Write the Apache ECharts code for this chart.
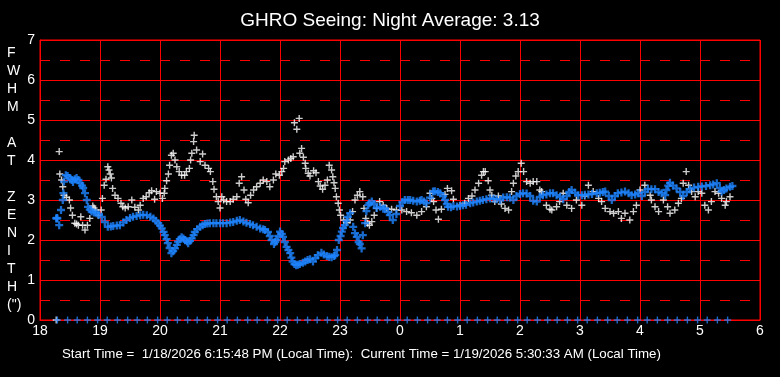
<!DOCTYPE html>
<html>
<head>
<meta charset="utf-8">
<script src="https://cdn.jsdelivr.net/npm/echarts@6/dist/echarts.min.js"></script>
<style>
  html, body { margin: 0; padding: 0; background: #000; }
  #chart { width: 780px; height: 377px; }
</style>
</head>
<body>
<div id="chart"></div>
<script>
// hour of night (18 = 6 PM, 24 = midnight, 30 = 6 AM)
const hourTicks = [18, 19, 20, 21, 22, 23, 24, 25, 26, 27, 28, 29, 30]

// raw FWHM samples (white)
const whiteTime = [18.27, 18.32, 18.33, 18.36, 18.38, 18.4, 18.44, 18.49, 18.51, 18.54, 18.58, 18.61, 18.64, 18.68, 18.71, 18.75, 18.79, 18.83, 18.88, 18.9, 18.92, 18.97, 19.02, 19.04, 19.07, 19.1, 19.13, 19.15, 19.17, 19.19, 19.21, 19.25, 19.3, 19.35, 19.38, 19.42, 19.47, 19.53, 19.58, 19.64, 19.67, 19.72, 19.77, 19.82, 19.86, 19.91, 19.94, 20.0, 20.04, 20.07, 20.08, 20.11, 20.14, 20.16, 20.19, 20.22, 20.25, 20.28, 20.32, 20.36, 20.41, 20.44, 20.49, 20.51, 20.53, 20.56, 20.57, 20.61, 20.67, 20.71, 20.75, 20.81, 20.84, 20.88, 20.9, 20.94, 20.97, 21.0, 21.03, 21.06, 21.11, 21.17, 21.22, 21.28, 21.32, 21.36, 21.4, 21.43, 21.47, 21.51, 21.56, 21.61, 21.67, 21.72, 21.78, 21.83, 21.89, 21.93, 21.99, 22.03, 22.06, 22.08, 22.14, 22.18, 22.22, 22.24, 22.28, 22.32, 22.33, 22.36, 22.39, 22.42, 22.43, 22.47, 22.5, 22.56, 22.6, 22.64, 22.67, 22.71, 22.75, 22.79, 22.82, 22.86, 22.88, 22.9, 22.92, 22.94, 22.97, 22.99, 23.01, 23.06, 23.11, 23.17, 23.21, 23.25, 23.29, 23.33, 23.38, 23.4, 23.43, 23.46, 23.49, 23.53, 23.57, 23.61, 23.66, 23.72, 23.78, 23.86, 23.94, 24.03, 24.11, 24.19, 24.28, 24.36, 24.44, 24.5, 24.53, 24.56, 24.6, 24.64, 24.69, 24.75, 24.79, 24.86, 24.89, 25.0, 25.08, 25.14, 25.2, 25.25, 25.31, 25.36, 25.39, 25.42, 25.47, 25.5, 25.53, 25.58, 25.64, 25.69, 25.75, 25.81, 25.86, 25.89, 25.93, 25.97, 26.02, 26.06, 26.11, 26.17, 26.22, 26.28, 26.33, 26.36, 26.44, 26.5, 26.53, 26.61, 26.66, 26.72, 26.78, 26.86, 26.94, 27.03, 27.08, 27.14, 27.22, 27.31, 27.36, 27.42, 27.5, 27.56, 27.64, 27.69, 27.75, 27.83, 27.89, 27.94, 28.0, 28.08, 28.17, 28.19, 28.25, 28.31, 28.39, 28.46, 28.5, 28.58, 28.64, 28.69, 28.72, 28.77, 28.81, 28.86, 28.92, 28.97, 29.03, 29.08, 29.14, 29.19, 29.25, 29.31, 29.36, 29.42, 29.44, 29.5]
const whiteFwhm = [0, 4.21, 3.65, 3.5, 3.33, 3.12, 3.07, 3.0, 2.8, 2.62, 2.42, 2.4, 2.37, 2.58, 2.37, 2.25, 2.37, 2.54, 2.85, 2.8, 2.75, 2.62, 2.75, 3.04, 3.37, 3.52, 3.83, 3.75, 3.65, 3.55, 3.29, 3.12, 3.04, 2.92, 2.83, 2.8, 2.83, 3.0, 2.82, 2.75, 2.87, 3.04, 3.08, 3.18, 3.23, 3.02, 3.21, 3.17, 3.04, 3.17, 3.29, 3.48, 3.65, 3.87, 4.12, 4.17, 4.0, 3.83, 3.71, 3.62, 3.62, 3.71, 3.79, 4.0, 4.17, 4.46, 4.62, 4.25, 3.96, 4.15, 3.87, 3.79, 3.71, 3.46, 3.27, 3.08, 2.96, 2.8, 3.08, 3.0, 2.96, 2.96, 3.02, 3.08, 3.42, 3.58, 3.25, 3.02, 2.93, 3.12, 3.25, 3.33, 3.42, 3.5, 3.46, 3.33, 3.5, 3.65, 3.62, 3.71, 3.79, 3.96, 4.0, 4.04, 4.08, 4.93, 4.77, 5.04, 4.17, 4.29, 4.07, 3.92, 3.79, 3.67, 3.6, 3.73, 3.68, 3.46, 3.35, 3.27, 3.37, 3.5, 3.87, 3.75, 3.58, 3.43, 3.29, 3.08, 2.92, 2.75, 2.62, 2.5, 2.43, 2.5, 2.71, 3.0, 3.12, 3.21, 3.08, 2.79, 2.54, 2.42, 2.37, 2.46, 2.62, 2.79, 2.96, 2.87, 2.79, 2.77, 2.75, 2.75, 2.71, 2.68, 2.62, 2.71, 2.83, 3.17, 3.04, 2.96, 2.75, 2.52, 2.77, 3.14, 3.29, 3.23, 3.02, 2.87, 2.92, 3.04, 3.1, 3.25, 3.42, 3.62, 3.71, 3.71, 3.48, 3.25, 3.12, 2.96, 3.1, 2.9, 2.79, 2.75, 3.21, 3.42, 3.6, 3.71, 3.92, 3.71, 3.46, 3.42, 3.46, 3.46, 3.25, 3.21, 2.87, 2.77, 2.75, 2.83, 2.96, 3.17, 2.87, 2.79, 3.0, 2.87, 3.1, 3.37, 3.21, 3.04, 2.96, 2.79, 2.71, 2.67, 2.71, 2.54, 2.67, 2.5, 2.71, 2.87, 3.25, 3.37, 3.12, 3.0, 2.83, 2.71, 3.0, 2.83, 2.67, 2.75, 2.92, 3.04, 3.42, 3.71, 3.37, 3.21, 3.08, 3.21, 3.17, 2.87, 2.75, 2.96, 3.21, 3.17, 3.04, 2.87, 2.96, 3.08]

// running average FWHM (blue)
const blueTime = [18.27, 18.28, 18.29, 18.32, 18.35, 18.38, 18.39, 18.4, 18.43, 18.46, 18.5, 18.53, 18.55, 18.58, 18.61, 18.64, 18.67, 18.7, 18.72, 18.75, 18.78, 18.8, 18.83, 18.86, 18.9, 18.94, 18.98, 19.03, 19.08, 19.13, 19.18, 19.22, 19.28, 19.33, 19.39, 19.44, 19.5, 19.55, 19.61, 19.67, 19.72, 19.78, 19.84, 19.89, 19.93, 19.97, 20.0, 20.03, 20.06, 20.08, 20.11, 20.13, 20.16, 20.19, 20.22, 20.25, 20.28, 20.3, 20.33, 20.36, 20.39, 20.42, 20.45, 20.47, 20.5, 20.53, 20.56, 20.58, 20.62, 20.67, 20.71, 20.75, 20.79, 20.83, 20.89, 20.94, 21.0, 21.05, 21.11, 21.17, 21.22, 21.28, 21.33, 21.39, 21.44, 21.5, 21.55, 21.61, 21.67, 21.72, 21.75, 21.8, 21.83, 21.86, 21.9, 21.92, 21.94, 21.97, 22.0, 22.03, 22.05, 22.08, 22.11, 22.14, 22.17, 22.19, 22.21, 22.24, 22.27, 22.3, 22.33, 22.38, 22.42, 22.46, 22.5, 22.55, 22.59, 22.63, 22.69, 22.73, 22.78, 22.82, 22.86, 22.9, 22.92, 22.95, 22.98, 23.01, 23.03, 23.05, 23.08, 23.11, 23.13, 23.17, 23.22, 23.25, 23.28, 23.31, 23.33, 23.36, 23.38, 23.42, 23.44, 23.47, 23.49, 23.53, 23.57, 23.61, 23.67, 23.72, 23.75, 23.8, 23.83, 23.88, 23.94, 24.0, 24.04, 24.08, 24.13, 24.17, 24.22, 24.28, 24.33, 24.36, 24.4, 24.44, 24.5, 24.55, 24.58, 24.63, 24.67, 24.72, 24.75, 24.78, 24.8, 24.85, 24.89, 24.95, 25.0, 25.05, 25.1, 25.17, 25.22, 25.28, 25.33, 25.38, 25.44, 25.5, 25.56, 25.61, 25.67, 25.72, 25.78, 25.83, 25.89, 25.94, 26.0, 26.05, 26.11, 26.17, 26.22, 26.28, 26.33, 26.38, 26.44, 26.5, 26.55, 26.61, 26.67, 26.72, 26.78, 26.82, 26.86, 26.92, 26.97, 27.03, 27.08, 27.14, 27.2, 27.28, 27.33, 27.38, 27.42, 27.48, 27.53, 27.58, 27.63, 27.69, 27.75, 27.81, 27.86, 27.92, 27.97, 28.03, 28.08, 28.13, 28.19, 28.25, 28.31, 28.36, 28.42, 28.44, 28.47, 28.5, 28.55, 28.61, 28.67, 28.72, 28.78, 28.83, 28.9, 28.97, 29.03, 29.1, 29.17, 29.22, 29.28, 29.33, 29.36, 29.4, 29.44, 29.5, 29.54]
const blueFwhm = [2.54, 2.55, 2.54, 2.37, 2.75, 3.0, 3.17, 3.46, 3.62, 3.6, 3.55, 3.5, 3.45, 3.52, 3.55, 3.5, 3.42, 3.36, 3.3, 3.17, 3.0, 2.83, 2.76, 2.71, 2.69, 2.67, 2.63, 2.58, 2.45, 2.33, 2.34, 2.35, 2.36, 2.37, 2.44, 2.5, 2.55, 2.58, 2.6, 2.62, 2.63, 2.62, 2.58, 2.54, 2.48, 2.42, 2.36, 2.29, 2.2, 2.12, 2.02, 1.92, 1.8, 1.67, 1.72, 1.79, 1.88, 1.96, 2.02, 2.07, 2.04, 2.0, 1.96, 1.92, 1.98, 2.04, 2.12, 2.2, 2.27, 2.33, 2.37, 2.4, 2.41, 2.42, 2.42, 2.42, 2.42, 2.42, 2.42, 2.44, 2.45, 2.48, 2.5, 2.46, 2.43, 2.4, 2.37, 2.33, 2.29, 2.27, 2.25, 2.2, 2.1, 2.0, 1.9, 1.95, 2.0, 2.1, 2.21, 2.15, 2.08, 1.95, 1.83, 1.75, 1.67, 1.56, 1.46, 1.4, 1.37, 1.38, 1.4, 1.43, 1.46, 1.5, 1.52, 1.46, 1.55, 1.62, 1.68, 1.64, 1.6, 1.58, 1.57, 1.6, 1.62, 1.75, 2.0, 2.1, 2.21, 2.3, 2.37, 2.48, 2.58, 2.67, 2.33, 2.17, 2.08, 1.95, 1.9, 1.79, 2.12, 2.42, 2.72, 2.87, 2.92, 2.96, 2.9, 2.8, 2.83, 2.78, 2.79, 2.7, 2.62, 2.5, 2.65, 2.85, 2.95, 3.0, 3.0, 3.0, 2.98, 2.96, 2.98, 3.0, 2.96, 2.92, 3.06, 3.21, 3.22, 3.2, 3.17, 3.1, 3.0, 2.9, 2.83, 2.82, 2.85, 2.84, 2.85, 2.87, 2.88, 2.92, 2.94, 2.96, 2.98, 3.0, 3.02, 3.04, 3.03, 3.02, 3.0, 3.06, 3.07, 3.06, 3.0, 3.1, 3.15, 3.17, 3.16, 3.1, 2.98, 2.96, 3.08, 3.12, 3.14, 3.17, 3.17, 3.12, 3.08, 3.02, 3.1, 3.2, 3.25, 3.18, 3.12, 3.12, 3.13, 3.14, 3.15, 3.17, 3.18, 3.2, 3.21, 3.1, 3.0, 3.1, 3.17, 3.19, 3.21, 3.17, 3.12, 3.14, 3.17, 3.1, 3.2, 3.28, 3.27, 3.27, 3.2, 3.17, 3.12, 3.25, 3.36, 3.43, 3.36, 3.29, 3.2, 3.1, 3.2, 3.27, 3.31, 3.33, 3.34, 3.35, 3.37, 3.39, 3.42, 3.3, 3.21, 3.25, 3.29, 3.33, 3.35]

// 10-minute markers along the bottom (FWHM 0)
const zeroTime = [18.29, 18.46, 18.62, 18.79, 18.96, 19.12, 19.29, 19.46, 19.62, 19.79, 19.96, 20.12, 20.29, 20.46, 20.62, 20.79, 20.96, 21.12, 21.29, 21.46, 21.62, 21.79, 21.96, 22.12, 22.29, 22.46, 22.62, 22.79, 22.96, 23.12, 23.29, 23.46, 23.62, 23.79, 23.96, 24.12, 24.29, 24.46, 24.62, 24.79, 24.96, 25.12, 25.29, 25.46, 25.62, 25.79, 25.96, 26.12, 26.29, 26.46, 26.62, 26.79, 26.96, 27.12, 27.29, 27.46, 27.62, 27.79, 27.96, 28.12, 28.29, 28.46, 28.62, 28.79, 28.96, 29.12, 29.29, 29.46]

const titleText = 'GHRO Seeing: Night Average: 3.13'
const yName = ['F', 'W', 'H', 'M', '', 'A', 'T', '', 'Z', 'E', 'N', 'I', 'T', 'H', '(")']
const footText = 'Start Time =  1/18/2026 6:15:48 PM (Local Time):  Current Time = 1/19/2026 5:30:33 AM (Local Time)'

// "+" markers, a bit heavier than a hairline so they stay bright when antialiased
const plus = 'path://M2.8,0H4.2V7H2.8Z M0,2.8H7V4.2H0Z'
const plusBold = 'path://M2.5,0H4.5V7H2.5Z M0,2.5H7V4.5H0Z'
const font = 'Liberation Sans, Arial, sans-serif'
const red = '#ff0000'
const blue = '#1e84ff'

const chart = echarts.init(document.getElementById('chart'))

chart.setOption({
  backgroundColor: '#000',
  animation: false,
  textStyle: { fontFamily: font },
  title: [
    {
      text: titleText,
      left: 'center',
      top: 6,
      textStyle: { color: '#fff', fontSize: 19, fontWeight: 'normal', fontFamily: font },
    },
    {
      text: yName.join('\n'),
      left: 2,
      top: 39,
      textStyle: { color: '#fff', fontSize: 14, lineHeight: 18, fontWeight: 'normal', fontFamily: font },
    },
    {
      text: footText,
      left: 57,
      top: 343,
      textStyle: { color: '#fff', fontSize: 13.3, fontWeight: 'normal', fontFamily: font },
    },
  ],
  grid: {
    left: 40,
    right: 20,
    top: 40,
    bottom: 57,
    show: true,
    borderColor: red,
    borderWidth: 1,
    backgroundColor: 'transparent',
  },
  xAxis: {
    type: 'value',
    min: hourTicks[0],
    max: hourTicks[hourTicks.length - 1],
    interval: 1,
    axisLine: { lineStyle: { color: red } },
    axisTick: { show: false },
    axisLabel: {
      color: '#fff',
      fontSize: 14,
      margin: 4,
      fontFamily: font,
      formatter: (v) => String(v % 24),
    },
    splitLine: { show: true, lineStyle: { color: red, width: 1 } },
  },
  yAxis: {
    type: 'value',
    min: 0,
    max: 7,
    interval: 1,
    axisLine: { show: true, lineStyle: { color: red } },
    axisTick: { show: false },
    axisLabel: { color: '#fff', fontSize: 14, margin: 5, fontFamily: font },
    splitLine: { show: true, lineStyle: { color: red, width: 1 } },
    minorTick: { show: false, splitNumber: 2 },
    minorSplitLine: { show: true, lineStyle: { color: red, width: 1, type: [10, 10] } },
  },
  series: [
    {
      name: 'FWHM',
      type: 'scatter',
      symbol: plus,
      symbolSize: 7,
      itemStyle: { color: '#ffffff' },
      data: whiteTime.map((t, i) => [t, whiteFwhm[i]]),
      z: 3,
    },
    {
      name: 'Average',
      type: 'scatter',
      symbol: plusBold,
      symbolSize: 8,
      itemStyle: { color: blue },
      data: blueTime.map((t, i) => [t, blueFwhm[i]]),
      z: 4,
    },
    {
      name: 'Marker',
      type: 'scatter',
      symbol: plus,
      symbolSize: 7,
      itemStyle: { color: blue },
      data: zeroTime.map((t) => [t, 0]),
      z: 4,
    },
  ],
})
</script>
</body>
</html>
